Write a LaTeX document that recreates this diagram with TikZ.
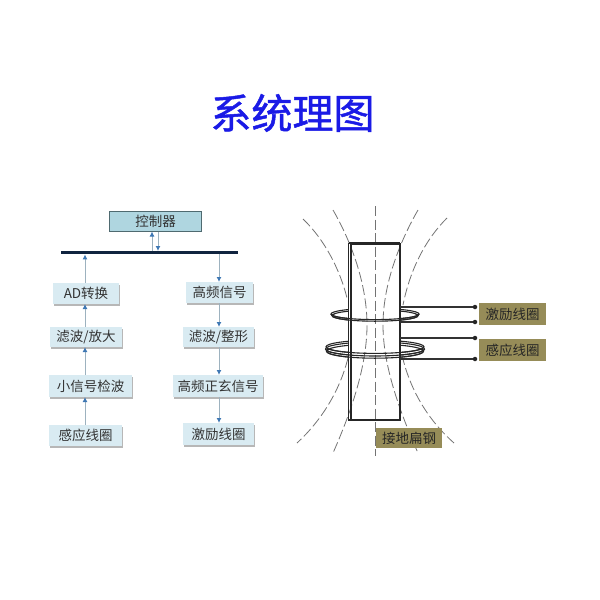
\documentclass[tikz,border=0pt]{standalone}
\usepackage{fontspec}
\setmainfont{Noto Sans CJK SC}
\newfontfamily\titlefont[FakeBold=1.2]{Noto Sans CJK SC}
\usetikzlibrary{shadows,arrows.meta,calc}
\definecolor{boxfill}{HTML}{D9EBF2}
\definecolor{ctrlfill}{HTML}{AFD6E0}
\definecolor{ctrledge}{HTML}{4F6A70}
\definecolor{arrowc}{HTML}{9DB2BF}
\definecolor{tipc}{HTML}{3F78B4}
\definecolor{busc}{HTML}{10243F}
\definecolor{labfill}{HTML}{968C58}
\definecolor{txt}{HTML}{333333}
\definecolor{titlec}{HTML}{1A1AE6}
\tikzset{
  x=1pt,y=-1pt,
  flowbox/.style={anchor=north west,inner sep=0pt,outer sep=0pt,fill=boxfill,text=txt,font=\fontsize{13.5}{13.5}\selectfont,
    drop shadow={shadow xshift=1.2pt,shadow yshift=-1.5pt,fill=black!40,opacity=.7}},
  tagbox/.style={anchor=north west,inner sep=0pt,outer sep=0pt,fill=labfill,text=black!85,font=\fontsize{13.5}{13.5}\selectfont},
  flow/.style={draw=arrowc,line width=1pt,-{Latex[length=5pt,width=5pt,color=tipc]}},
  field/.style={draw=black!55,line width=.8pt,dash pattern=on 10pt off 3.5pt},
  steel/.style={draw=black!85,line width=1.2pt},
  coil/.style={draw=black!85,line width=1.1pt},
  wire/.style={draw=black!80,line width=1.1pt},
  pin/.style={circle,fill=black!85,inner sep=0pt,minimum size=4.5pt},
}
\begin{document}
\begin{tikzpicture}
\useasboundingbox (0,0) rectangle (600,600);
\node[font=\fontsize{41}{41}\selectfont\titlefont,text=titlec,inner sep=0pt] (title) at (292.5,113) {系统理图};

% flow chart
\node[anchor=north west,inner sep=0pt,outer sep=0pt,fill=ctrlfill,draw=ctrledge,line width=1pt,text=txt,
  font=\fontsize{13.5}{13.5}\selectfont,minimum width=92pt,minimum height=20pt] (ctrl) at (109.5,211.5) {控制器};
\node[anchor=north west,inner sep=0pt,outer sep=0pt,fill=busc,minimum width=177pt,minimum height=3.4pt] (bus) at (61,251) {};

\node[flowbox,minimum width=66pt,minimum height=21pt] (ad) at (53,283) {AD转换};
\node[flowbox,minimum width=72pt,minimum height=20pt] (lb1) at (50,327) {滤波/放大};
\node[flowbox,minimum width=83pt,minimum height=22pt] (xx) at (49,375) {小信号检波};
\node[flowbox,minimum width=73pt,minimum height=21pt] (gy) at (49,425) {感应线圈};

\node[flowbox,minimum width=67pt,minimum height=21pt] (gp) at (186,282) {高频信号};
\node[flowbox,minimum width=71pt,minimum height=20pt] (lb2) at (183,327) {滤波/整形};
\node[flowbox,minimum width=90pt,minimum height=22pt] (zx) at (173,375) {高频正玄信号};
\node[flowbox,minimum width=71pt,minimum height=22pt] (jl) at (183,423) {激励线圈};

\coordinate (lx) at (85,0);
\coordinate (rx) at (219,0);
\coordinate (cu) at (152,0);
\coordinate (cd) at (158,0);
\draw[flow] (gy.north -| lx) -- (xx.south -| lx);
\draw[flow] (xx.north -| lx) -- (lb1.south -| lx);
\draw[flow] (lb1.north -| lx) -- (ad.south -| lx);
\draw[flow] (ad.north -| lx) -- (bus.south -| lx);
\draw[flow] (bus.north -| cu) -- (ctrl.south -| cu);
\draw[flow] (ctrl.south -| cd) -- (bus.north -| cd);
\draw[flow] (bus.south -| rx) -- (gp.north -| rx);
\draw[flow] (gp.south -| rx) -- (lb2.north -| rx);
\draw[flow] (lb2.south -| rx) -- (zx.north -| rx);
\draw[flow] (zx.south -| rx) -- (jl.north -| rx);

% coils, whole loops (the bar hides their back halves)
\coordinate (c1) at (375,314);
\coordinate (c2) at (375,349);
\draw[coil] (c1) ellipse [x radius=44,y radius=5.6];
\draw[coil] ($(c1)+(0,1.6)$) ellipse [x radius=43,y radius=5.6];
\draw[coil] ($(c2)+(0,-2.2)$) ellipse [x radius=49,y radius=6.6];
\draw[coil] (c2) ellipse [x radius=49.5,y radius=7];
\draw[coil] ($(c2)+(0,2.2)$) ellipse [x radius=48.5,y radius=7];

% steel bar
\fill[white] (349,243) rectangle (400,420);

% field lines
\draw[field] (375,206) -- (375,456);
\draw[field] (333,210) .. controls (352,243) and (367,285) .. (367,325) .. controls (367,365) and (352,410) .. (333,453);
\draw[field] (418,210) .. controls (399,243) and (383,285) .. (383,325) .. controls (383,365) and (399,410) .. (418,453);
\draw[field] (303,219) .. controls (325,240) and (340,270) .. (347,298);
\draw[field] (348,358) .. controls (340,390) and (322,420) .. (297,443);
\draw[field] (447,218) .. controls (425,240) and (410,270) .. (403,305);
\draw[field] (402,355) .. controls (410,390) and (428,420) .. (454,443);

\draw[steel,line width=1.1pt] (351,244) rectangle (400,420);
\draw[steel,line width=1.6pt] (348.5,243) -- (400,243);
\draw[steel,line width=1.4pt] (348.5,243) -- (348.5,420) -- (351,420);

% front halves of the coils over the bar
\begin{scope}
\clip (320,314) rectangle (430,330);
\draw[coil] (c1) ellipse [x radius=44,y radius=5.6];
\draw[coil] ($(c1)+(0,1.6)$) ellipse [x radius=43,y radius=5.6];
\end{scope}
\begin{scope}
\clip (320,349) rectangle (430,365);
\draw[coil] ($(c2)+(0,-2.2)$) ellipse [x radius=49,y radius=6.6];
\draw[coil] (c2) ellipse [x radius=49.5,y radius=7];
\draw[coil] ($(c2)+(0,2.2)$) ellipse [x radius=48.5,y radius=7];
\end{scope}

% terminals and labels
\node[pin] (p1) at (475,307) {};
\node[pin] (p2) at (475,322) {};
\node[pin] (p3) at (475,338) {};
\node[pin] (p4) at (475,359) {};
\coordinate (w1) at (400,307);
\coordinate (w2) at (400,322);
\coordinate (w3) at (400,338);
\coordinate (w4) at (400,359);
\draw[wire] (w1) -- (p1);
\draw[wire] (w2) -- (p2);
\draw[wire] (w3) -- (p3);
\draw[wire] (w4) -- (p4);

\node[tagbox,minimum width=67pt,minimum height=22pt] (t1) at (479,303) {激励线圈};
\node[tagbox,minimum width=67pt,minimum height=22pt] (t2) at (479,339) {感应线圈};
\node[tagbox,minimum width=66pt,minimum height=20pt] (t3) at (376,428) {接地扁钢};
\end{tikzpicture}
\end{document}
